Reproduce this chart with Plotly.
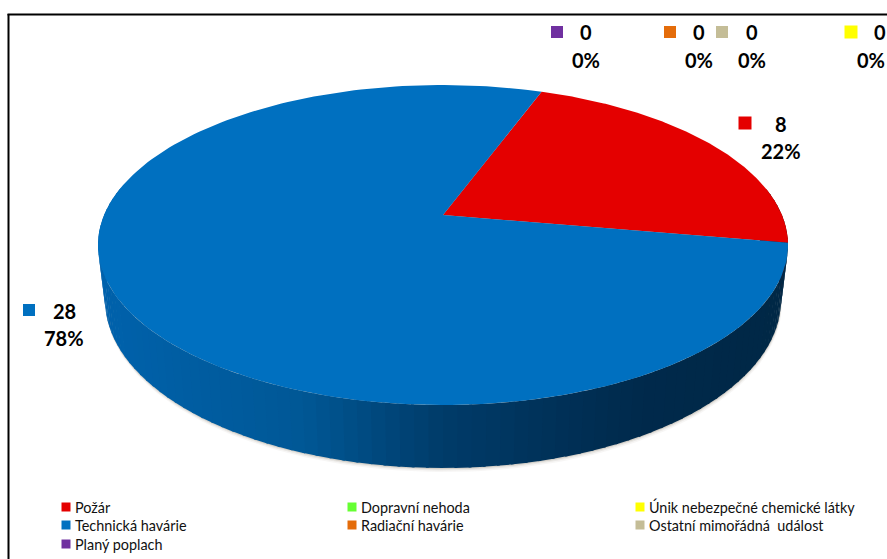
import numpy as np
import plotly.graph_objects as go

# ---- data ----
categories = ["Požár", "Technická havárie", "Dopravní nehoda", "Radiační havárie",
              "Únik nebezpečné chemické látky", "Ostatní mimořádná  událost", "Planý poplach"]
values = [8, 28, 0, 0, 0, 0, 0]
colors = ["#e40000", "#0070c0", "#66ff33", "#e46c0a", "#ffff00", "#c4bd97", "#7030a0"]

# ---- layout of the picture, in pixels ----
W, H = 887, 559
START_DEG = 20.0
TOP = dict(a=338.9, b=154.4, cx=443.0, cy=215.0)
BOTTOM = dict(a=332.0, b=162.1, cx=443.0, cy=268.5)
K = -0.1875
LABEL_FONT = "Lato"
# index -> (marker x, marker y, value text x, value y, percent text x, percent y, marker size)
label_pos = {
    0: (745, 123, 781, 124, 781, 151, 13),
    1: (29, 310, 64, 311, 64, 338, 12),
    3: (670, 32, 699, 32, 699, 60, 12),
    4: (851, 32, 880, 32, 871, 60, 13),
    5: (722, 32, 752, 32, 752, 60, 12),
    6: (557, 32, 586, 32, 586, 60, 12),
}
legend_pos = {0: (66, 507), 1: (66, 525), 2: (352, 507), 3: (352, 525),
              4: (640, 507), 5: (640, 525), 6: (66, 544)}
side_stops = [(100, (0, 98, 172)), (300, (0, 88, 150)), (440, (0, 60, 106)),
              (640, (0, 42, 76)), (790, (1, 40, 70))]


def project(theta_deg, d):
    t = np.radians(theta_deg)
    u, v = np.sin(t), -np.cos(t)
    den = 1 + K * v
    return d["cx"] + d["a"] * u / den, d["cy"] + d["b"] * v / den


def side_color(x):
    xs = [s[0] for s in side_stops]
    rgb = [np.interp(x, xs, [s[1][i] for s in side_stops]) for i in range(3)]
    return "rgb(%d,%d,%d)" % tuple(int(c) for c in rgb)


def darken(hexcol, x):
    r, g, b = int(hexcol[1:3], 16), int(hexcol[3:5], 16), int(hexcol[5:7], 16)
    if hexcol == colors[1]:
        return side_color(x)
    return "rgb(%d,%d,%d)" % (r * 0.35, g * 0.35, b * 0.35)


total = sum(values)
fractions = [v / total for v in values]
edges = START_DEG + 360 * np.cumsum([0] + fractions)

fig = go.Figure()


def poly(xs, ys, fill, line=None):
    fig.add_trace(go.Scatter(x=list(xs), y=list(ys), mode="lines", fill="toself",
                             fillcolor=fill,
                             line=dict(color=line or "rgba(0,0,0,0)", width=1 if line else 0),
                             hoverinfo="skip", showlegend=False))


# soft shadow under the disc
ring = np.linspace(0, 360, 240)
for off, alpha in [(4, 0.06), (2.5, 0.10), (1.2, 0.18)]:
    sx, sy = project(ring, BOTTOM)
    poly(sx + off * 0.2, sy + off, "rgba(120,105,85,%.2f)" % alpha)

# side wall as narrow shaded strips, coloured by the slice they belong to
steps = np.arange(80, 281, 2.0)
for t0, t1 in zip(steps[:-1], steps[1:]):
    mid = (t0 + t1) / 2
    idx = 0
    for i in range(len(values)):
        if edges[i] <= mid < edges[i + 1] or edges[i] <= mid + 360 < edges[i + 1]:
            idx = i
    x0, y0 = project(t0, TOP)
    x1, y1 = project(t1 + 0.4, TOP)
    x2, y2 = project(t1 + 0.4, BOTTOM)
    x3, y3 = project(t0, BOTTOM)
    col = darken(colors[idx], (x0 + x1) / 2)
    poly([x0, x1, x2, x3, x0], [y0, y1, y2, y3, y0], col)

# top face: one wedge per non-zero value
for i, v in enumerate(values):
    if v == 0:
        continue
    th = np.linspace(edges[i], edges[i + 1], 200)
    px, py = project(th, TOP)
    poly(np.r_[TOP["cx"], px, TOP["cx"]], np.r_[TOP["cy"], py, TOP["cy"]], colors[i])

# data labels
annotations = []
for i, (mx, my, tx, vy, px_, py_, ms) in label_pos.items():
    fig.add_trace(go.Scatter(x=[mx], y=[my], mode="markers", name=categories[i],
                             marker=dict(symbol="square", size=ms, color=colors[i]),
                             hoverinfo="skip", showlegend=False))
    pct = round(100 * values[i] / total)
    for txt, x, y in ((str(values[i]), tx, vy), (f"{pct}%", px_, py_)):
        annotations.append(dict(x=x, y=y, text=f"<b>{txt}</b>", showarrow=False,
                                xanchor="center", yanchor="middle", xref="x", yref="y",
                                font=dict(family=LABEL_FONT, size=20, color="#000000")))

# legend
for i, (mx, my) in legend_pos.items():
    fig.add_trace(go.Scatter(x=[mx], y=[my], mode="markers", name=categories[i],
                             marker=dict(symbol="square", size=9, color=colors[i]),
                             hoverinfo="skip", showlegend=False))
    annotations.append(dict(x=mx + 7, y=my, text=categories[i], showarrow=False,
                            xanchor="left", yanchor="middle", xref="x", yref="y",
                            font=dict(family=LABEL_FONT, size=14.4, color="#111111")))

fig.update_layout(
    width=W, height=H, margin=dict(l=0, r=0, t=0, b=0),
    paper_bgcolor="white", plot_bgcolor="white",
    xaxis=dict(range=[0, W], visible=False, fixedrange=True),
    yaxis=dict(range=[H, 0], visible=False, fixedrange=True),
    annotations=annotations,
    shapes=[dict(type="line", xref="x", yref="y", x0=8.5, y0=14, x1=8.5, y1=H,
                 line=dict(color="black", width=2)),
            dict(type="line", xref="x", yref="y", x0=7.5, y0=14.5, x1=W, y1=14.5,
                 line=dict(color="black", width=2))],
)
fig.write_html("out.html", config={"displayModeBar": False},
               post_script="document.body.style.margin='0';document.body.style.overflow='hidden';")
